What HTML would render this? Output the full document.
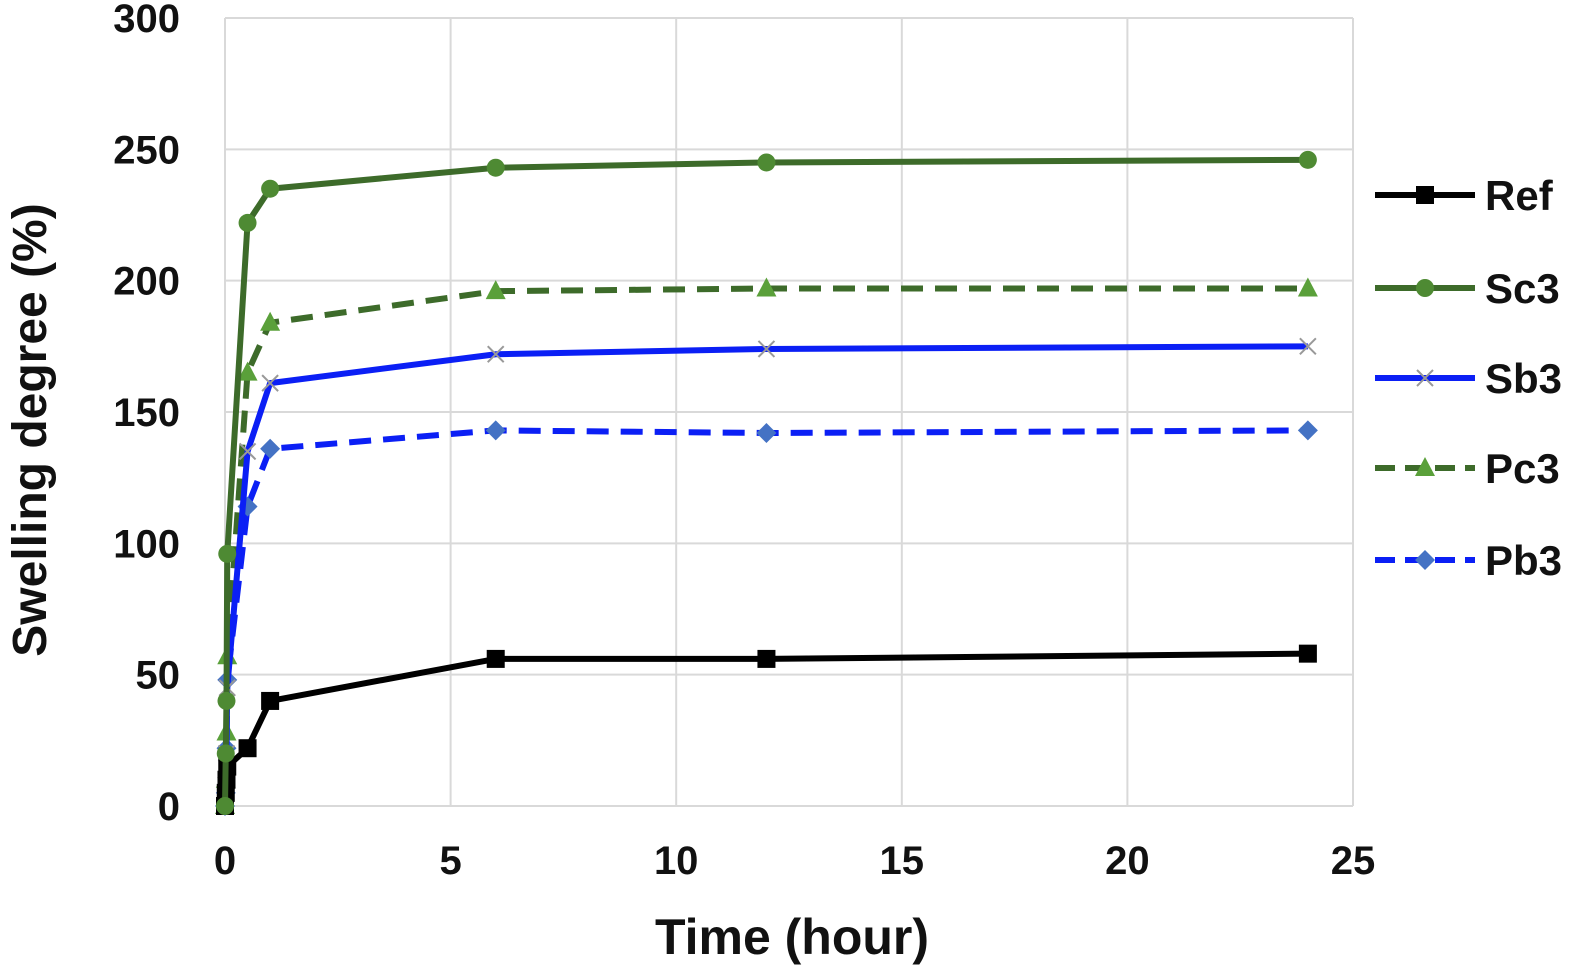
<!DOCTYPE html>
<html><head><meta charset="utf-8"><style>
body{margin:0;background:#fff;}
svg{display:block;font-family:"Liberation Sans",sans-serif;font-weight:bold;}
</style></head><body>
<svg id="chart" width="1575" height="966" viewBox="0 0 1575 966">
<g id="grid"></g><g id="series"></g><g id="axes"></g><g id="legend"></g>
</svg>
<script>
const times=[0,0.017,0.033,0.05,0.5,1,6,12,24];
const refVals=[0,5,10,15,22,40,56,56,58];
const sc3Vals=[0,20,40,96,222,235,243,245,246];
const pc3Vals=[0,10,28,57,165,184,196,197,197];
const sb3Vals=[0,8,20,45,135,161,172,174,175];
const pb3Vals=[0,5,22,48,114,136,143,142,143];
const xTicks=[0,5,10,15,20,25];
const yTicks=[0,50,100,150,200,250,300];
const seriesNames=["Ref","Sc3","Sb3","Pc3","Pb3"];

const NS="http://www.w3.org/2000/svg";
const X0=225,X1=1353,Y0=806,Y1=18;
const xs=v=>X0+(v/25)*(X1-X0);
const ys=v=>Y0-(v/300)*(Y0-Y1);
function mk(tag,attrs,parent){const e=document.createElementNS(NS,tag);for(const k in attrs)e.setAttribute(k,attrs[k]);parent.appendChild(e);return e;}
const grid=document.getElementById('grid'),axes=document.getElementById('axes'),ser=document.getElementById('series'),leg=document.getElementById('legend');
xTicks.forEach(t=>{const l=mk('line',{x1:xs(t),x2:xs(t),y1:Y1,y2:Y0,stroke:'#d9d9d9','stroke-width':2},grid);

const tx=mk('text',{x:xs(t),y:874,'font-size':40,'text-anchor':'middle',fill:'#111'},axes);tx.textContent=t;
});
yTicks.forEach(t=>{const l=mk('line',{x1:X0,x2:X1,y1:ys(t),y2:ys(t),stroke:'#d9d9d9','stroke-width':2},grid);

const tx=mk('text',{x:180,y:ys(t)+14,'font-size':40,'text-anchor':'end',fill:'#111'},axes);tx.textContent=t;
});
const xt=mk('text',{x:792,y:954,'font-size':50,'text-anchor':'middle',fill:'#111'},axes);xt.textContent="Time  (hour)";

const yt=mk('text',{x:0,y:0,'font-size':48,'text-anchor':'middle',fill:'#111',transform:'translate(46,430) rotate(-90)'},axes);yt.textContent="Swelling degree (%)";


function marker(type,x,y,fill,g){
 if(type==='sq')return mk('rect',{x:x-9,y:y-9,width:18,height:18,fill:fill},g);
 if(type==='ci')return mk('circle',{cx:x,cy:y,r:9,fill:fill},g);
 if(type==='tr')return mk('polygon',{points:`${x},${y-11} ${x+10},${y+8} ${x-10},${y+8}`,fill:fill},g);
 if(type==='di')return mk('polygon',{points:`${x},${y-10} ${x+10},${y} ${x},${y+10} ${x-10},${y}`,fill:fill},g);
 if(type==='x'){const p=mk('path',{d:`M${x-8},${y-8}L${x+8},${y+8}M${x+8},${y-8}L${x-8},${y+8}`,stroke:fill,'stroke-width':2},g);return p;}
}
const defs=[
 {name:"Pb3",vals:pb3Vals,color:'#0b1ff5',dash:'22 12',mk:'di',mc:'#4472c4'},
 {name:"Pc3",vals:pc3Vals,color:'#3d6b2a',dash:'22 12',mk:'tr',mc:'#5aa03a'},
 {name:"Sb3",vals:sb3Vals,color:'#0b1ff5',dash:'',mk:'x',mc:'#999'},
 {name:"Ref",vals:refVals,color:'#000',dash:'',mk:'sq',mc:'#000'},
 {name:"Sc3",vals:sc3Vals,color:'#3d6b2a',dash:'',mk:'ci',mc:'#4e8a33'}];
defs.forEach(d=>{
 const g=mk('g',{},ser);
 
 
 const pts=d.vals.map((v,i)=>xs(times[i])+','+ys(v)).join(' ');
 const pl=mk('polyline',{points:pts,fill:'none',stroke:d.color,'stroke-width':6,'stroke-dasharray':d.dash,'stroke-linejoin':'round'},g);
 
 
 d.vals.forEach((v,i)=>{const m=marker(d.mk,xs(times[i]),ys(v),d.mc,g);
 
 });
});
const legY=[195,288,378,468,560];
seriesNames.forEach((n,i)=>{
 const d=defs.find(q=>q.name===n);const y=legY[i];
 const g=mk('g',{},leg);
 
 
 mk('line',{x1:1375,x2:1475,y1:y,y2:y,stroke:d.color,'stroke-width':6,'stroke-dasharray':d.dash?'20 10':''},g);
 marker(d.mk,1425,y,d.mc,g);
 const t=mk('text',{x:1485,y:y+15,'font-size':42,fill:'#111'},g);t.textContent=n;
});
</script>
</body></html>
